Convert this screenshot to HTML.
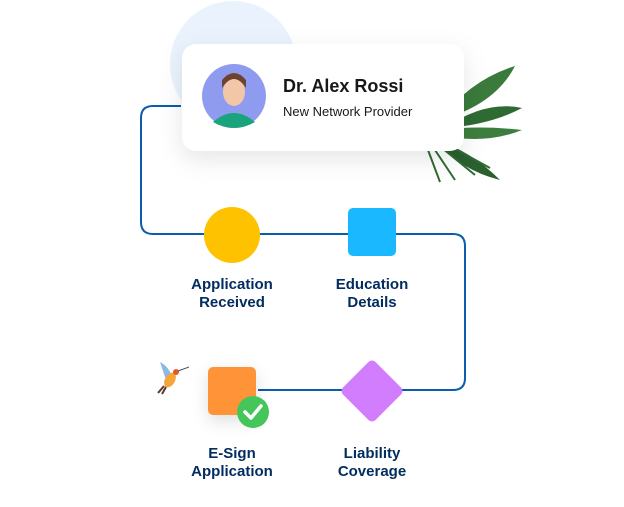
<!DOCTYPE html>
<html><head><style>
body{margin:0;width:624px;height:507px;background:#fff;overflow:hidden;position:relative;font-family:"Liberation Sans",sans-serif}
.lbl{position:absolute;width:140px;text-align:center;color:#032d60;font-weight:bold;font-size:15px;line-height:18px}
</style></head><body>
<svg width="624" height="507" style="position:absolute;left:0;top:0">
<defs>
<filter id="sh" x="-30%" y="-50%" width="160%" height="200%"><feDropShadow dx="0" dy="8" stdDeviation="12" flood-color="#000" flood-opacity="0.10"/></filter>
<filter id="sh2" x="-50%" y="-50%" width="200%" height="200%"><feDropShadow dx="0" dy="6" stdDeviation="8" flood-color="#000" flood-opacity="0.12"/></filter>
</defs>
<circle cx="233" cy="64" r="63" fill="#eaf3fd"/>
<path d="M181 106 H153 Q141 106 141 118 V222 Q141 234 153 234 H453 Q465 234 465 246 V378 Q465 390 453 390 H258" fill="none" stroke="#0b5cab" stroke-width="2"/>
<g>
<path d="M440 120 Q470 80 515 66 Q495 105 440 120Z" fill="#3a7a3c"/>
<path d="M445 128 Q485 100 522 108 Q490 125 445 128Z" fill="#2e6b33"/>
<path d="M440 130 Q480 125 522 130 Q485 145 440 135Z" fill="#3d7e3f"/>
<path d="M435 140 Q470 150 500 180 Q460 170 435 140Z" fill="#2a5f2e"/>
<g stroke="#2e6b33" stroke-width="2" fill="none">
<path d="M428 150 L440 182 M435 150 L455 180 M442 148 L475 175 M450 146 L490 168"/>
</g>
</g>
<rect x="182" y="44" width="282" height="107" rx="14" fill="#fff" filter="url(#sh)"/>
<circle cx="234" cy="96" r="32" fill="#8f9bef"/>
<ellipse cx="234" cy="92" rx="11" ry="14" fill="#f1c7a8"/>
<path d="M222 88 Q234 70 246 88 L246 80 Q234 66 222 80Z" fill="#6b4330"/>
<path d="M213 122 Q234 104 255 122 Q245 128 234 128 Q223 128 213 122Z" fill="#1aa47e"/>
<circle cx="232" cy="235" r="28" fill="#fec201"/>
<rect x="348" y="208" width="48" height="48" rx="5" fill="#1ab9ff"/>
<rect x="208" y="367" width="48" height="48" rx="5" fill="#fe9339" filter="url(#sh2)"/>
<circle cx="253" cy="412" r="16" fill="#45c65a"/>
<path d="M245 412 L251 418 L261 406" fill="none" stroke="#fff" stroke-width="3.5" stroke-linecap="round" stroke-linejoin="round"/>
<rect x="349" y="368" width="46" height="46" rx="5" fill="#d17dfe" transform="rotate(45 372 391)"/>
<path d="M160 362 Q168 366 172 376 L166 380Z" fill="#8ab9e8"/>
<ellipse cx="170" cy="380" rx="5" ry="8" fill="#f5a53a" transform="rotate(30 170 380)"/>
<circle cx="176" cy="372" r="3" fill="#e05a2a"/>
<path d="M178 371 L189 367" stroke="#555" stroke-width="1"/>
<path d="M164 386 L158 393 M166 387 L162 394" stroke="#5a3a2a" stroke-width="2"/>
</svg>
<div style="position:absolute;left:283px;top:76px;font-size:18px;font-weight:bold;color:#181818">Dr. Alex Rossi</div>
<div style="position:absolute;left:283px;top:104px;font-size:13px;color:#181818">New Network Provider</div>
<div class="lbl" style="left:162px;top:276px">Application<br>Received</div>
<div class="lbl" style="left:302px;top:276px">Education<br>Details</div>
<div class="lbl" style="left:162px;top:445px">E-Sign<br>Application</div>
<div class="lbl" style="left:302px;top:445px">Liability<br>Coverage</div>
</body></html>
